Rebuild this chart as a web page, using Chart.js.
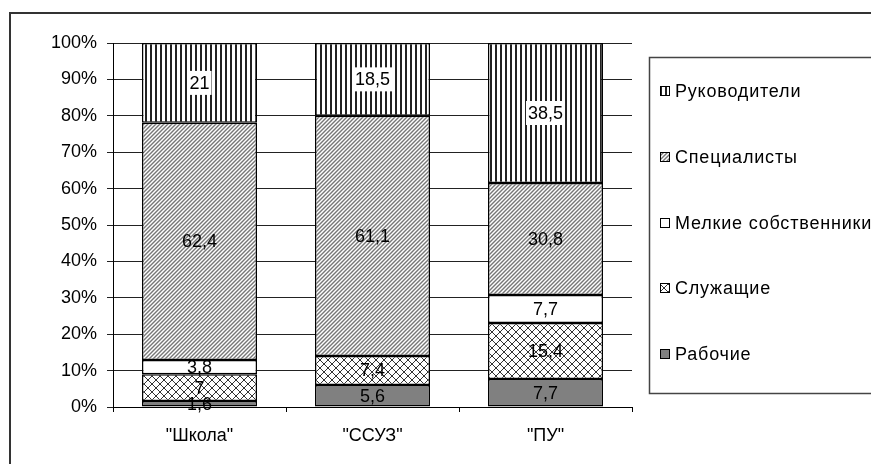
<!DOCTYPE html>
<html>
<head>
<meta charset="utf-8">
<script src="https://cdn.jsdelivr.net/npm/chart.js@4"></script>
<style>
  html, body { margin: 0; padding: 0; background: #fff; }
  #wrap { width: 871px; height: 464px; }
</style>
</head>
<body>
<div id="wrap"><canvas id="chart1" width="871" height="464"></canvas></div>
<script>
// Данные (значения подписей, столбцы нормированы до 100%)
const categories = ['"Школа"', '"ССУЗ"', '"ПУ"'];
const seriesNames = ["Рабочие", "Служащие", "Мелкие собственники", "Специалисты", "Руководители"];
const workers = [1.6, 5.6, 7.7];
const employees = [7, 7.4, 15.4];
const smallOwners = [3.8, 0, 7.7];
const specialists = [62.4, 61.1, 30.8];
const managers = [21, 18.5, 38.5];
const yTicks = [0, 10, 20, 30, 40, 50, 60, 70, 80, 90, 100];

const rawSeries = [workers, employees, smallOwners, specialists, managers];
const totals = categories.map((c, i) => rawSeries.reduce((s, arr) => s + arr[i], 0));

const FONT = "Liberation Sans, Arial, sans-serif";

// Штриховки
function makePattern(kind) {
  const c = document.createElement("canvas");
  const g = c.getContext("2d");
  if (kind === "vert") {
    c.width = 5; c.height = 5;
    g.fillStyle = "#fff"; g.fillRect(0, 0, 5, 5);
    g.fillStyle = "#222"; g.fillRect(0, 0, 2, 5);
  } else if (kind === "diag") {
    c.width = 4; c.height = 4;
    g.fillStyle = "#fff"; g.fillRect(0, 0, 4, 4);
    g.strokeStyle = "#777"; g.lineWidth = 1.4;
    g.beginPath();
    g.moveTo(0, 4); g.lineTo(4, 0);
    g.moveTo(-1, 1); g.lineTo(1, -1);
    g.moveTo(3, 5); g.lineTo(5, 3);
    g.stroke();
  } else if (kind === "cross") {
    c.width = 8; c.height = 8;
    g.fillStyle = "#fff"; g.fillRect(0, 0, 8, 8);
    g.strokeStyle = "#333"; g.lineWidth = 1;
    g.beginPath();
    g.moveTo(0, 0); g.lineTo(8, 8);
    g.moveTo(8, 0); g.lineTo(0, 8);
    g.stroke();
  } else if (kind === "solid") {
    c.width = 2; c.height = 2;
    g.fillStyle = "#808080"; g.fillRect(0, 0, 2, 2);
  } else {
    c.width = 2; c.height = 2;
    g.fillStyle = "#fff"; g.fillRect(0, 0, 2, 2);
  }
  return g.createPattern(c, "repeat");
}

const fills = [makePattern("solid"), makePattern("cross"), makePattern("white"), makePattern("diag"), makePattern("vert")];

const datasets = rawSeries.map((arr, k) => ({
  label: seriesNames[k],
  data: arr.map((v, i) => v / totals[i] * 100),
  raw: arr,
  backgroundColor: fills[k],
  borderColor: "#000",
  borderWidth: 1.5,
  borderSkipped: false,
  barPercentage: 0.665,
  categoryPercentage: 1,
}));

// Подписи значений + легенда + рамка
const decorPlugin = {
  id: "decor",
  afterDatasetsDraw(chart) {
    const ctx = chart.ctx;
    ctx.save();
    ctx.font = "18px " + FONT;
    ctx.textAlign = "center";
    ctx.textBaseline = "middle";
    chart.data.datasets.forEach((ds, k) => {
      const meta = chart.getDatasetMeta(k);
      meta.data.forEach((bar, i) => {
        const v = ds.raw[i];
        if (!v) return;
        const txt = String(v).replace(".", ",");
        const y = (bar.y + bar.base) / 2;
        if (k === 4) {
          const w = ctx.measureText(txt).width;
          ctx.fillStyle = "#fff";
          ctx.fillRect(bar.x - w / 2 - 2, y - 12, w + 4, 24);
        }
        ctx.fillStyle = "#000";
        ctx.fillText(txt, bar.x, y + 1);
      });
    });
    ctx.restore();
  },
  afterDraw(chart) {
    const ctx = chart.ctx;
    ctx.save();
    // внешняя рамка
    ctx.strokeStyle = "#333";
    ctx.lineWidth = 2;
    ctx.strokeRect(10, 13, 1000, 1000);
    // легенда
    ctx.lineWidth = 1.5;
    ctx.strokeStyle = "#444";
    ctx.strokeRect(649.5, 57.5, 400, 336);
    ctx.font = "18px " + FONT;
    ctx.letterSpacing = "0.8px";
    ctx.textBaseline = "middle";
    ctx.textAlign = "left";
    const rows = [91, 157, 223, 288, 354];
    for (let r = 0; r < 5; r++) {
      const k = 4 - r;
      const y = rows[r];
      ctx.fillStyle = fills[k];
      ctx.fillRect(661, y - 4, 8, 8);
      ctx.lineWidth = 1;
      ctx.strokeStyle = "#000";
      ctx.strokeRect(660.5, y - 4.5, 9, 9);
      ctx.fillStyle = "#000";
      ctx.fillText(seriesNames[k], 675, y + 1);
    }
    ctx.restore();
  },
};

const ctx1 = document.getElementById("chart1").getContext("2d");
const myChart1 = new Chart(ctx1, {
  type: "bar",
  data: { labels: categories, datasets: datasets },
  options: {
    responsive: false,
    animation: false,
    layout: { padding: { left: 0, top: 43, right: 239, bottom: 0 } },
    plugins: { legend: { display: false }, tooltip: { enabled: false } },
    scales: {
      x: {
        stacked: true,
        offset: true,
        afterFit: (s) => { s.height = 57; },
        border: { display: true, color: "#000", width: 1 },
        grid: { offset: true, drawOnChartArea: false, drawTicks: true, tickLength: 5, color: "#000" },
        ticks: { color: "#000", padding: 13, font: { family: FONT, size: 18 } },
      },
      y: {
        stacked: true,
        min: 0,
        max: 100,
        afterFit: (s) => { s.width = 113; },
        afterBuildTicks: (s) => { s.ticks = yTicks.map((v) => ({ value: v })); },
        border: { display: true, color: "#000", width: 1 },
        grid: { color: "#222", lineWidth: 1, tickLength: 6 },
        ticks: { color: "#000", padding: 10, font: { family: FONT, size: 18 }, callback: (v) => v + "%" },
      },
    },
  },
  plugins: [decorPlugin],
});
</script>
</body>
</html>
